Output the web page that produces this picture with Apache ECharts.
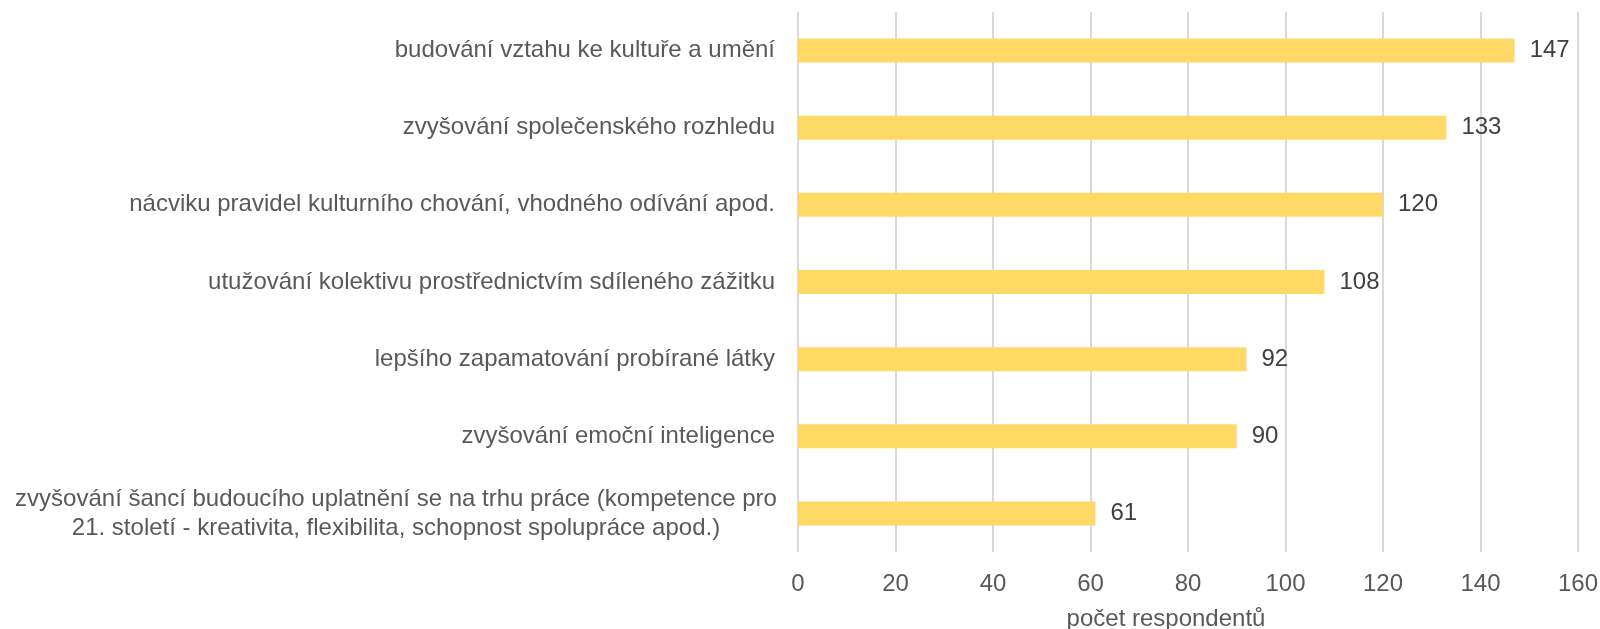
<!DOCTYPE html>
<html>
<head>
<meta charset="utf-8">
<script src="https://cdn.jsdelivr.net/npm/echarts@6/dist/echarts.min.js"></script>
<style>
html,body{margin:0;padding:0;background:#fff;}
#chart{width:1600px;height:629px;}
</style>
</head>
<body>
<div id="chart"></div>
<script>
const categories = [
  "budování vztahu ke kultuře a umění",
  "zvyšování společenského rozhledu",
  "nácviku pravidel kulturního chování, vhodného odívání apod.",
  "utužování kolektivu prostřednictvím sdíleného zážitku",
  "lepšího zapamatování probírané látky",
  "zvyšování emoční inteligence",
  "zvyšování šancí budoucího uplatnění se na trhu práce (kompetence pro\n21. století - kreativita, flexibilita, schopnost spolupráce apod.)"
];
const values = [147, 133, 120, 108, 92, 90, 61];
const axisTitle = "počet respondentů";

const FONT = "'Liberation Sans', Arial, sans-serif";
const chart = echarts.init(document.getElementById('chart'), null, {renderer: 'canvas'});
chart.setOption({
  animation: false,
  backgroundColor: '#ffffff',
  grid: {left: 798, right: 22, top: 12, bottom: 77, containLabel: false, outerBoundsMode: 'none'},
  xAxis: {
    type: 'value',
    min: 0, max: 160, interval: 20,
    axisLine: {show: false},
    axisTick: {show: false},
    splitLine: {show: true, lineStyle: {color: '#d9d9d9', width: 2}},
    axisLabel: {color: '#595959', fontSize: 24, fontFamily: FONT, margin: 20},
    name: axisTitle,
    nameLocation: 'middle',
    nameGap: 55,
    nameTextStyle: {color: '#595959', fontSize: 24, fontFamily: FONT, padding: [0, 44, 0, 0]}
  },
  yAxis: {
    type: 'category',
    inverse: true,
    data: categories,
    axisLine: {show: false},
    axisTick: {show: false},
    splitLine: {show: false},
    axisLabel: {
      color: '#595959', fontSize: 24, fontFamily: FONT, margin: 23,
      formatter: function (v) { return v.indexOf('\n') >= 0 ? '{c|' + v + '}' : v; },
      rich: {c: {width: 758, align: 'center', lineHeight: 29, fontSize: 24, color: '#595959', fontFamily: FONT}}
    }
  },
  series: [{
    type: 'bar',
    data: values,
    barWidth: 24,
    itemStyle: {color: '#FFD966'},
    label: {show: true, position: 'right', distance: 15, color: '#404040', fontSize: 24, fontFamily: FONT}
  }]
});
</script>
</body>
</html>
